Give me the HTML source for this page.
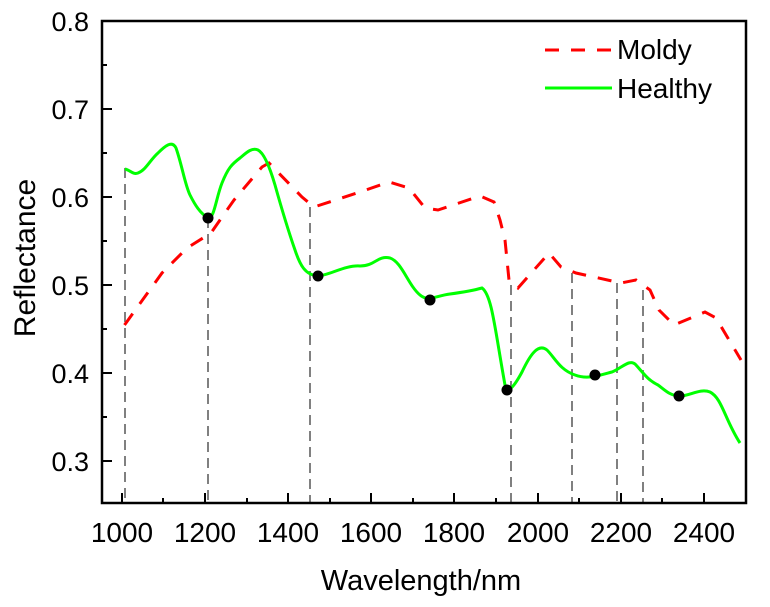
<!DOCTYPE html>
<html><head><style>body{margin:0;background:#fff}</style></head><body>
<svg width="770" height="602" xmlns="http://www.w3.org/2000/svg" font-family="Liberation Sans, Arial, sans-serif">
<rect width="770" height="602" fill="#fff"/>
<g stroke="#808080" stroke-width="2" stroke-dasharray="10,6" fill="none">
<line x1="125" y1="168" x2="125" y2="503"/>
<line x1="208" y1="218" x2="208" y2="503"/>
<line x1="310" y1="207" x2="310" y2="503"/>
<line x1="511" y1="285" x2="511" y2="503"/>
<line x1="572" y1="273" x2="572" y2="503"/>
<line x1="617" y1="283" x2="617" y2="503"/>
<line x1="643" y1="290" x2="643" y2="503"/>
</g>
<path d="M124.5,325 L162,273 L187,248 L211,233 L220,220 L234,200 L262,167 L269,163 L302,197 L314,207 L360,192 L389,182 L409,188 L425,208 L438,210 L480,196 L494,202 L500,220 L505,240 L509,280 L518,288 L549,253 L561,267 L576,273 L621,283 L636,280 L650,290 L659,310 L674,325 L705,312 L716,318 L741,360" fill="none" stroke="#ff0000" stroke-width="3" stroke-dasharray="14,12"/>
<path d="M125,169 C130,170 133,175 138,173 C146,170 150,160 158,153 C165,146 172,140 176,148 C182,165 185,185 190,195 C195,205 200,213 208,218 C214,220 216,198 222,183 C228,168 232,164 240,158 C246,153 252,147 258,150 C264,153 270,168 275,185 C282,210 288,230 295,250 C300,265 305,275 318,276 C330,275 345,265 360,266 C375,266 378,255 390,258 C402,262 408,285 420,295 C428,302 435,296 450,294 C465,292 475,290 482,288 C492,295 495,330 505,385 C508,395 515,385 522,372 C530,355 538,343 547,350 C555,358 560,370 575,375 C588,380 600,375 612,372 C622,368 630,358 636,365 C645,375 648,380 658,385 C665,390 670,396 680,396 C690,396 700,388 710,392 C722,398 725,420 740,443" fill="none" stroke="#00ff00" stroke-width="3"/>
<g fill="#000">
<circle cx="208" cy="218" r="5.5"/><circle cx="318" cy="276" r="5.5"/><circle cx="430" cy="300" r="5.5"/>
<circle cx="507" cy="390" r="5.5"/><circle cx="595" cy="375" r="5.5"/><circle cx="679" cy="396" r="5.5"/>
</g>
<rect x="102" y="21" width="644" height="482" fill="none" stroke="#000" stroke-width="2.5"/>
<g stroke="#000" stroke-width="2">
<line x1="102" y1="21" x2="112" y2="21"/><line x1="102" y1="65" x2="107" y2="65"/>
<line x1="102" y1="109" x2="112" y2="109"/><line x1="102" y1="153" x2="107" y2="153"/>
<line x1="102" y1="197" x2="112" y2="197"/><line x1="102" y1="241" x2="107" y2="241"/>
<line x1="102" y1="285" x2="112" y2="285"/><line x1="102" y1="329" x2="107" y2="329"/>
<line x1="102" y1="373" x2="112" y2="373"/><line x1="102" y1="417" x2="107" y2="417"/>
<line x1="102" y1="461" x2="112" y2="461"/>
<line x1="122" y1="503" x2="122" y2="493"/><line x1="163" y1="503" x2="163" y2="498"/>
<line x1="205" y1="503" x2="205" y2="493"/><line x1="247" y1="503" x2="247" y2="498"/>
<line x1="288" y1="503" x2="288" y2="493"/><line x1="330" y1="503" x2="330" y2="498"/>
<line x1="371" y1="503" x2="371" y2="493"/><line x1="413" y1="503" x2="413" y2="498"/>
<line x1="454" y1="503" x2="454" y2="493"/><line x1="496" y1="503" x2="496" y2="498"/>
<line x1="538" y1="503" x2="538" y2="493"/><line x1="579" y1="503" x2="579" y2="498"/>
<line x1="621" y1="503" x2="621" y2="493"/><line x1="662" y1="503" x2="662" y2="498"/>
<line x1="704" y1="503" x2="704" y2="493"/>
</g>
<g font-size="27" text-anchor="end" fill="#000">
<text x="89" y="31">0.8</text><text x="89" y="119">0.7</text><text x="89" y="207">0.6</text>
<text x="89" y="295">0.5</text><text x="89" y="383">0.4</text><text x="89" y="471">0.3</text>
</g>
<g font-size="28" text-anchor="middle" fill="#000">
<text x="122" y="542">1000</text><text x="205" y="542">1200</text><text x="288" y="542">1400</text>
<text x="371" y="542">1600</text><text x="454" y="542">1800</text><text x="538" y="542">2000</text>
<text x="621" y="542">2200</text><text x="704" y="542">2400</text>
</g>
<g font-size="29" text-anchor="middle" fill="#000">
<text x="421" y="590">Wavelength/nm</text>
<text transform="translate(35,258) rotate(-90)" font-size="30">Reflectance</text>
</g>
<line x1="545" y1="50" x2="612" y2="50" stroke="#ff0000" stroke-width="3" stroke-dasharray="14,12"/>
<line x1="545" y1="88" x2="612" y2="88" stroke="#00ff00" stroke-width="3"/>
<text x="617" y="59" font-size="28">Moldy</text>
<text x="617" y="98" font-size="28">Healthy</text>
</svg>
</body></html>
